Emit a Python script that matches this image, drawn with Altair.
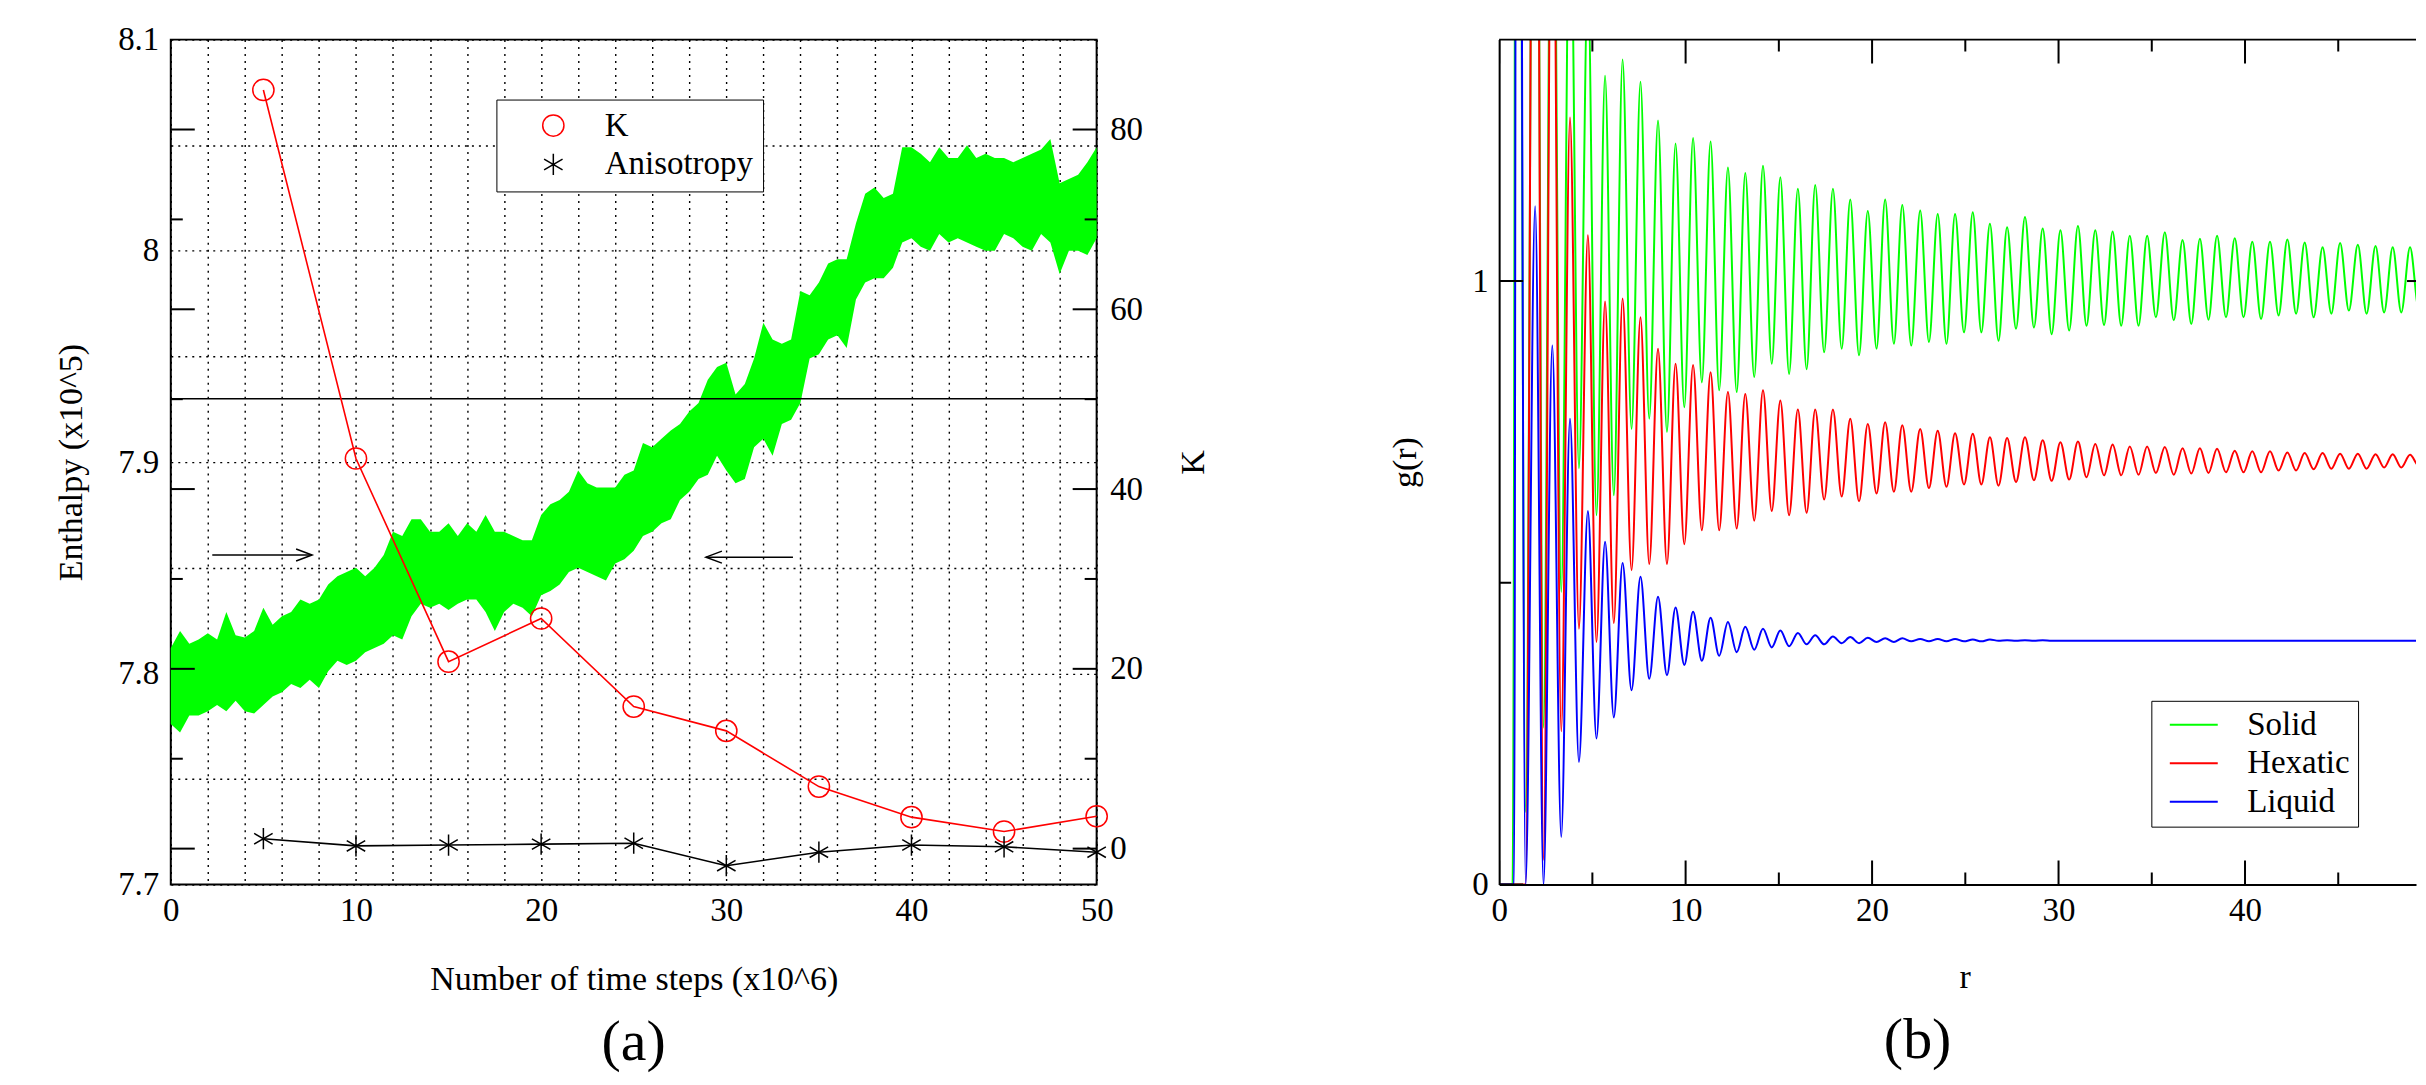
import altair as alt
import pandas as pd

FONT = "Liberation Serif"
GREEN, RED, BLUE, BLACK = "#00ff00", "#ff0000", "#0000ff", "#000000"

# ---------------- panel (a) data ----------------
T_STEPS = [i * 0.5 for i in range(101)]
ENTH_HIGH = [
    7.812, 7.820, 7.814, 7.816, 7.819, 7.816, 7.829, 7.818, 7.817, 7.820,
    7.831, 7.823, 7.827, 7.829, 7.835, 7.833, 7.835, 7.842, 7.846, 7.848,
    7.850, 7.846, 7.850, 7.856, 7.867, 7.865, 7.873, 7.873, 7.867, 7.867,
    7.871, 7.865, 7.871, 7.867, 7.875, 7.867, 7.867, 7.865, 7.863, 7.863,
    7.875, 7.880, 7.882, 7.886, 7.896, 7.890, 7.888, 7.888, 7.888, 7.894,
    7.896, 7.909, 7.907, 7.911, 7.915, 7.918, 7.924, 7.928, 7.939, 7.945,
    7.947, 7.932, 7.937, 7.949, 7.966, 7.958, 7.956, 7.958, 7.981, 7.979,
    7.985, 7.994, 7.996, 7.996, 8.013, 8.027, 8.030, 8.025, 8.027, 8.049,
    8.049, 8.046, 8.042, 8.049, 8.044, 8.044, 8.050, 8.044, 8.046, 8.044,
    8.044, 8.042, 8.044, 8.046, 8.048, 8.053, 8.032, 8.034, 8.036, 8.042,
    8.049]
ENTH_LOW = [
    7.776, 7.772, 7.780, 7.780, 7.782, 7.785, 7.782, 7.787, 7.782, 7.781,
    7.785, 7.789, 7.791, 7.795, 7.793, 7.797, 7.793, 7.801, 7.806, 7.804,
    7.806, 7.810, 7.812, 7.814, 7.818, 7.816, 7.827, 7.833, 7.831, 7.833,
    7.830, 7.833, 7.835, 7.835, 7.829, 7.820, 7.829, 7.833, 7.831, 7.827,
    7.837, 7.839, 7.842, 7.848, 7.850, 7.848, 7.846, 7.844, 7.852, 7.854,
    7.858, 7.865, 7.867, 7.871, 7.873, 7.882, 7.886, 7.892, 7.894, 7.903,
    7.896, 7.890, 7.892, 7.907, 7.911, 7.903, 7.918, 7.920, 7.928, 7.949,
    7.951, 7.958, 7.960, 7.954, 7.977, 7.985, 7.987, 7.987, 7.992, 8.004,
    8.006, 8.002, 8.000, 8.008, 8.004, 8.006, 8.004, 8.002, 8.000, 8.000,
    8.008, 8.006, 8.002, 8.000, 8.008, 8.004, 7.989, 8.000, 8.000, 7.998,
    8.006]

K_STEPS = [5, 10, 15, 20, 25, 30, 35, 40, 45, 50]
K_VALUES = [84.4, 43.4, 20.8, 25.6, 15.8, 13.1, 6.9, 3.5, 1.9, 3.6]
ANISO_VALUES = [1.1, 0.3, 0.4, 0.5, 0.6, -1.9, -0.4, 0.4, 0.2, -0.4]
SERIES_A = ["K", "Anisotropy"]

REF_LEVEL = [7.93]
ARROW_R_FROM, ARROW_R_TO, ARROW_R_LEVEL = [2.24], [7.63], [7.856]
ARROW_L_FROM, ARROW_L_TO, ARROW_L_LEVEL = [33.6], [28.9], [7.855]

X_GRID = list(range(0, 52, 2))
ENTH_GRID = [7.7, 7.75, 7.8, 7.85, 7.9, 7.95, 8.0, 8.05, 8.1]
K_LABELS = [0, 20, 40, 60, 80]
K_TICKS_MAJOR = [0, 20, 40, 60, 80]
K_TICKS_MINOR = [10, 30, 50, 70]

# ---------------- panel (b) data ----------------
PEAK_R = [0.97, 1.93, 2.85, 3.8, 4.76, 5.68, 6.62, 7.58, 8.52, 9.46, 10.4, 11.34, 12.27,
          13.2, 14.15, 15.08, 16.02, 16.95, 17.9, 18.83, 19.77, 20.7, 21.62, 22.58, 23.52,
          24.45, 25.4, 26.32, 27.24, 28.2, 29.15, 30.1, 31.04, 31.97, 32.9, 33.82, 34.75,
          35.7, 36.65, 37.58, 38.5, 39.45, 40.39, 41.34, 42.27, 43.2, 44.16, 45.1, 46.05,
          47.0, 47.92, 48.85, 49.78]
TROUGH_R = [1.42, 2.38, 3.33, 4.28, 5.22, 6.15, 7.1, 8.05, 9.0, 9.93, 10.87, 11.8, 12.74,
            13.68, 14.62, 15.55, 16.49, 17.43, 18.37, 19.3, 20.24, 21.17, 22.1, 23.05, 23.99,
            24.93, 25.86, 26.78, 27.72, 28.68, 29.63, 30.57, 31.5, 32.44, 33.36, 34.29, 35.22,
            36.18, 37.12, 38.04, 38.98, 39.92, 40.86, 41.8, 42.74, 43.68, 44.63, 45.57, 46.52,
            47.46, 48.38, 49.32]

SOLID_START_R, SOLID_START_G = [0.0, 0.72], [0.0, 0.0]
SOLID_PEAK = [3.0, 2.5, 2.0, 1.7, 1.5, 1.340, 1.367, 1.330, 1.266, 1.228, 1.237, 1.231, 1.188,
              1.179, 1.191, 1.172, 1.153, 1.159, 1.153, 1.135, 1.116, 1.135, 1.126, 1.117, 1.111,
              1.111, 1.114, 1.095, 1.089, 1.106, 1.087, 1.084, 1.091, 1.084, 1.082, 1.075, 1.075,
              1.081, 1.068, 1.070, 1.075, 1.071, 1.065, 1.065, 1.069, 1.064, 1.056, 1.063, 1.060,
              1.058, 1.056, 1.056, 1.055]
SOLID_TROUGH = [0.12, 0.26, 0.485, 0.69, 0.612, 0.645, 0.755, 0.772, 0.750, 0.791, 0.832, 0.819,
                0.816, 0.841, 0.863, 0.846, 0.854, 0.882, 0.888, 0.877, 0.888, 0.896, 0.893, 0.899,
                0.896, 0.915, 0.915, 0.901, 0.921, 0.923, 0.912, 0.918, 0.926, 0.927, 0.926, 0.926,
                0.940, 0.935, 0.929, 0.936, 0.940, 0.940, 0.937, 0.943, 0.946, 0.940, 0.946, 0.951,
                0.946, 0.948, 0.948, 0.954]

HEX_START_R, HEX_START_G = [0.0], [0.0]
HEX_PEAK = [None, 2.6, 1.9, 1.271, 1.076, 0.966, 0.971, 0.940, 0.888, 0.863, 0.861, 0.849, 0.816,
            0.813, 0.819, 0.802, 0.787, 0.787, 0.787, 0.772, 0.763, 0.766, 0.761, 0.755, 0.752,
            0.748, 0.747, 0.741, 0.740, 0.741, 0.736, 0.733, 0.734, 0.730, 0.729, 0.726, 0.726,
            0.725, 0.723, 0.723, 0.722, 0.719, 0.718, 0.718, 0.716, 0.715, 0.715, 0.714, 0.714,
            0.713, 0.713, 0.712, 0.712]
HEX_TROUGH = [0.0, 0.041, 0.254, 0.424, 0.402, 0.433, 0.521, 0.531, 0.531, 0.564, 0.587, 0.587,
              0.590, 0.603, 0.619, 0.612, 0.616, 0.638, 0.643, 0.635, 0.648, 0.651, 0.651, 0.657,
              0.659, 0.663, 0.663, 0.661, 0.667, 0.670, 0.669, 0.671, 0.675, 0.678, 0.678, 0.679,
              0.682, 0.679, 0.681, 0.682, 0.683, 0.683, 0.683, 0.686, 0.686, 0.688, 0.689, 0.689,
              0.689, 0.691, 0.691, 0.694]

LIQ_START_R, LIQ_START_G = [0.0, 0.8], [0.0, 0.0]
LIQ_PEAK = [3.5, 1.124, 0.893, 0.772, 0.619, 0.568, 0.533, 0.510, 0.477, 0.459, 0.452, 0.442, 0.435,
            0.427, 0.424, 0.421, 0.417, 0.413, 0.411, 0.410, 0.409, 0.408, 0.408, 0.407, 0.407,
            0.407, 0.406, 0.406, 0.405, 0.405, 0.405, 0.404, 0.404, 0.404, 0.404, 0.404, 0.404,
            0.404, 0.404, 0.404, 0.404, 0.404, 0.404, 0.404, 0.404, 0.404, 0.404, 0.404, 0.404,
            0.404, 0.404, 0.404, 0.404]
LIQ_TROUGH = [0.0, 0.0, 0.079, 0.203, 0.242, 0.277, 0.322, 0.341, 0.347, 0.364, 0.371, 0.379,
              0.385, 0.389, 0.393, 0.395, 0.398, 0.398, 0.400, 0.400, 0.402, 0.402, 0.403, 0.403,
              0.403, 0.403, 0.403, 0.404, 0.404, 0.404, 0.404, 0.404, 0.404, 0.404, 0.404, 0.404,
              0.404, 0.404, 0.404, 0.404, 0.404, 0.404, 0.404, 0.404, 0.404, 0.404, 0.404, 0.404,
              0.404, 0.404, 0.404, 0.404]

PHASES = ["Solid", "Hexatic", "Liquid"]
PHASE_COLORS = [GREEN, RED, BLUE]
R_LABELS = [0, 10, 20, 30, 40]
R_TICKS_MAJOR = [0, 10, 20, 30, 40, 50]
R_TICKS_MINOR = [5, 15, 25, 35, 45]
G_LABELS = [0, 1]
G_TICKS_MAJOR = [0, 1]
G_TICKS_MINOR = [0.5]

# symbol paths (marker geometry)
ASTERISK = "M0,-1L0,1M-0.87,-0.5L0.87,0.5M-0.87,0.5L0.87,-0.5"
HEAD_R = "M-2,-0.75L0,0L-2,0.75"
HEAD_L = "M2,-0.75L0,0L2,0.75"
LEG_LINE = "M-2,0L2,0"

# ---------------- layout numbers ----------------
W1, H1 = 927, 846
W2, H2 = 918, 846
R_MAX = 49.17
LBL, TTL = 33, 34

# ================= panel (a) =================
xs = alt.Scale(domain=[0, 50], nice=False, zero=False)
es = alt.Scale(domain=[7.7, 8.1], nice=False, zero=False)
ks = alt.Scale(domain=[-4, 90], nice=False, zero=False)

x_axis_a = alt.Axis(
    values=X_GRID, labelExpr="datum.value % 10 == 0 ? datum.label : ''",
    grid=True, gridColor=BLACK, gridDash=[2, 5], gridWidth=1.4, gridOpacity=1,
    ticks=False, tickSize=0, domain=False, labelFontSize=LBL, labelPadding=10,
    labelFlush=False, labelOverlap=False,
    title="Number of time steps (x10^6)", titleFontSize=TTL, titleY=95,
    titleBaseline="middle")
y_axis_a = alt.Axis(
    values=ENTH_GRID,
    labelExpr="abs(datum.value * 10 - round(datum.value * 10)) < 0.01 ? format(datum.value, '~g') : ''",
    grid=True, gridColor=BLACK, gridDash=[2, 5], gridWidth=1.4, gridOpacity=1,
    ticks=False, tickSize=0, domain=False, labelFontSize=LBL, labelPadding=12,
    labelOverlap=False, labelFlush=False,
    title="Enthalpy (x10^5)", titleFontSize=TTL, titleX=-99, titleBaseline="middle",
    titleAngle=270)
k_axis = alt.Axis(
    orient="right", values=K_LABELS, ticks=False, tickSize=0, domain=False, grid=False,
    labelFontSize=LBL, labelPadding=13, labelOverlap=False, labelFlush=False,
    title="K", titleFontSize=TTL, titleX=97, titleBaseline="middle", titleAngle=270)

X_A = lambda f: alt.X(f, scale=xs, axis=x_axis_a)

band = alt.Chart(pd.DataFrame({"t": T_STEPS, "hi": ENTH_HIGH, "lo": ENTH_LOW})).mark_area(
    color=GREEN, opacity=1).encode(
    x=X_A("t:Q"),
    y=alt.Y("hi:Q", scale=es, axis=y_axis_a),
    y2="lo:Q",
)

ref_line = alt.Chart(pd.DataFrame({"e": REF_LEVEL})).mark_rule(color=BLACK, strokeWidth=1.6).encode(
    y=alt.Y("e:Q", scale=es, axis=None))


def arrow(frm, to, lvl, head):
    df = pd.DataFrame({"t0": frm, "t1": to, "e": lvl})
    shaft = alt.Chart(df).mark_rule(color=BLACK, strokeWidth=1.5).encode(
        x=X_A("t0:Q"), x2="t1:Q", y=alt.Y("e:Q", scale=es, axis=None))
    tip = alt.Chart(df).mark_point(shape=head, filled=False, color=BLACK, strokeWidth=1.5,
                                   size=256, opacity=1).encode(
        x=X_A("t1:Q"), y=alt.Y("e:Q", scale=es, axis=None))
    return [shaft, tip]


def k_ticks(values, x0, x1):
    return alt.Chart(pd.DataFrame({"k": values})).mark_rule(color=BLACK, strokeWidth=2).encode(
        y=alt.Y("k:Q", scale=ks, axis=None), x=alt.value(x0), x2=alt.value(x1))


k_long = pd.DataFrame({
    "t": K_STEPS + K_STEPS,
    "val": K_VALUES + ANISO_VALUES,
    "series": ["K"] * len(K_STEPS) + ["Anisotropy"] * len(K_STEPS),
})
color_a = alt.Scale(domain=SERIES_A, range=[RED, BLACK])
shape_a = alt.Scale(domain=SERIES_A, range=["circle", ASTERISK])
legend_a = alt.Legend(
    orient="none", legendX=326, legendY=60, title=None, symbolSize=452,
    symbolStrokeWidth=1.5, symbolOffset=31, labelOffset=35, padding=9.5, rowPadding=5,
    strokeColor=BLACK, fillColor="white", labelFontSize=LBL, labelColor=BLACK, labelFont=FONT)

k_lines = alt.Chart(k_long).mark_line(strokeWidth=1.6).encode(
    x=X_A("t:Q"),
    y=alt.Y("val:Q", scale=ks, axis=k_axis),
    color=alt.Color("series:N", scale=color_a, legend=legend_a),
)
k_points = alt.Chart(k_long).mark_point(filled=False, strokeWidth=1.5, size=452, opacity=1).encode(
    x=X_A("t:Q"),
    y=alt.Y("val:Q", scale=ks, axis=None),
    color=alt.Color("series:N", scale=color_a, legend=legend_a),
    shape=alt.Shape("series:N", scale=shape_a, legend=legend_a),
)

panel_a = alt.layer(
    band, ref_line,
    *arrow(ARROW_R_FROM, ARROW_R_TO, ARROW_R_LEVEL, HEAD_R),
    *arrow(ARROW_L_FROM, ARROW_L_TO, ARROW_L_LEVEL, HEAD_L),
    k_ticks(K_TICKS_MAJOR, 0, 24), k_ticks(K_TICKS_MINOR, 0, 12),
    k_ticks(K_TICKS_MAJOR, W1 - 24, W1), k_ticks(K_TICKS_MINOR, W1 - 12, W1),
    k_lines, k_points,
).resolve_scale(y="independent").properties(
    width=W1, height=H1,
    view=alt.ViewBackground(stroke=BLACK, strokeWidth=2),
    title=alt.TitleParams("(a)", orient="bottom", offset=18, anchor="middle", frame="group"),
)

# ================= panel (b) =================
rs = alt.Scale(domain=[0, R_MAX], nice=False, zero=False)
gs = alt.Scale(domain=[0, 1.4], nice=False, zero=False)

rows = []
for name, sr, sg, pk, tr in [
    ("Solid", SOLID_START_R, SOLID_START_G, SOLID_PEAK, SOLID_TROUGH),
    ("Hexatic", HEX_START_R, HEX_START_G, HEX_PEAK, HEX_TROUGH),
    ("Liquid", LIQ_START_R, LIQ_START_G, LIQ_PEAK, LIQ_TROUGH),
]:
    pts = list(zip(sr, sg))
    for i, pr in enumerate(PEAK_R):
        if pk[i] is not None:
            pts.append((pr, pk[i]))
        if i < len(TROUGH_R) and tr[i] is not None:
            pts.append((TROUGH_R[i], tr[i]))
    for j, (r, g) in enumerate(pts):
        rows.append({"phase": name, "r": r, "g": g, "idx": j})
gdf = pd.DataFrame(rows)

legend_b = alt.Legend(
    orient="none", legendX=653, legendY=662, title=None, symbolType=LEG_LINE,
    symbolSize=576, symbolStrokeWidth=2, symbolOffset=18.5, labelOffset=37, padding=7.5,
    rowPadding=4.5, strokeColor=BLACK, fillColor="white", labelFontSize=LBL,
    labelColor=BLACK, labelFont=FONT)

x_axis_b = alt.Axis(
    orient="bottom", values=R_LABELS, ticks=False, tickSize=0, domain=True, domainColor=BLACK,
    domainWidth=2, grid=False, labelFontSize=LBL, labelPadding=10, labelFlush=False,
    labelOverlap=False, title="r", titleFontSize=TTL, titleX=466, titleY=93,
    titleBaseline="middle", zindex=1)
y_axis_b = alt.Axis(
    values=G_LABELS, labelExpr="format(datum.value, '~g')", ticks=False, tickSize=0,
    domain=True, domainColor=BLACK, domainWidth=2, grid=False, labelFontSize=LBL,
    labelPadding=11, labelFlush=False, labelOverlap=False, title="g(r)", titleFontSize=TTL,
    titleX=-94, titleBaseline="middle", titleAngle=270, zindex=1)

X_B = lambda f: alt.X(f, scale=rs, axis=x_axis_b)
Y_B = lambda f: alt.Y(f, scale=gs, axis=y_axis_b)

curves = alt.Chart(gdf).mark_line(interpolate="monotone", strokeWidth=2, clip=True).encode(
    x=X_B("r:Q"),
    y=Y_B("g:Q"),
    color=alt.Color("phase:N", scale=alt.Scale(domain=PHASES, range=PHASE_COLORS), legend=legend_b),
    order="idx:Q",
)


def r_ticks(values, y0, y1):
    return alt.Chart(pd.DataFrame({"r": values})).mark_rule(
        color=BLACK, strokeWidth=2, clip=True).encode(
        x=X_B("r:Q"), y=alt.value(y0), y2=alt.value(y1))


def g_ticks(values, x0, x1):
    return alt.Chart(pd.DataFrame({"g": values})).mark_rule(
        color=BLACK, strokeWidth=2, clip=True).encode(
        y=Y_B("g:Q"), x=alt.value(x0), x2=alt.value(x1))


top_edge = alt.Chart(pd.DataFrame({"g": [1.4]})).mark_rule(color=BLACK, strokeWidth=2).encode(
    y=Y_B("g:Q"))

panel_b = alt.layer(
    curves,
    r_ticks(R_TICKS_MAJOR, H2, H2 - 24), r_ticks(R_TICKS_MINOR, H2, H2 - 12),
    r_ticks(R_TICKS_MAJOR, 0, 24), r_ticks(R_TICKS_MINOR, 0, 12),
    g_ticks(G_TICKS_MAJOR, 0, 24), g_ticks(G_TICKS_MINOR, 0, 12),
    g_ticks([1], W2 - 9, W2),
    top_edge,
).properties(
    width=W2, height=H2,
    view=alt.ViewBackground(stroke="transparent"),
    title=alt.TitleParams("(b)", orient="bottom", offset=18, anchor="middle", frame="group", dx=-40),
)

chart = alt.hconcat(panel_a, panel_b, spacing=403, bounds="flush").resolve_scale(
    color="independent", shape="independent"
).resolve_legend(
    color="independent", shape="independent"
).properties(
    padding={"left": 46, "top": 14, "right": 0, "bottom": 0},
).configure_view(
    stroke=BLACK, strokeWidth=2,
).configure_axis(
    labelFont=FONT, titleFont=FONT, labelColor=BLACK, titleColor=BLACK,
    titleFontWeight="normal",
).configure_title(
    font=FONT, fontSize=58, fontWeight="normal", color=BLACK,
).configure_legend(
    labelFont=FONT,
)

chart.save("out.html", embed_options={"renderer": "svg", "actions": False})
